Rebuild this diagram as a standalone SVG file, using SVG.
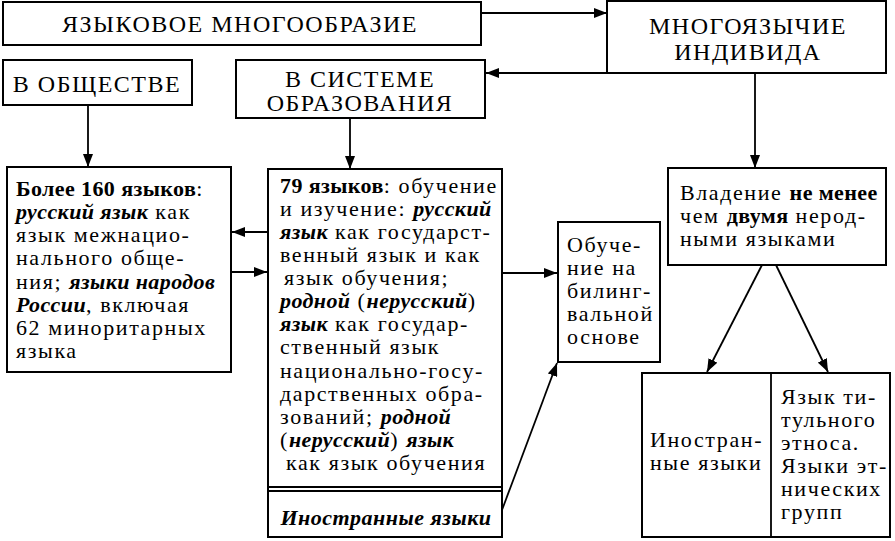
<svg xmlns="http://www.w3.org/2000/svg" width="895" height="541" viewBox="0 0 895 541">
<defs>
<marker id="ah" markerUnits="userSpaceOnUse" markerWidth="14" markerHeight="10" refX="13" refY="5" orient="auto">
<path d="M0,0 L13,5 L0,10 z" fill="#000"/>
</marker>
<style>
.box{fill:#fff;stroke:#000;stroke-width:2}
.ln{fill:none;stroke:#000;stroke-width:1.8}
text{font-family:"Liberation Serif","Times New Roman",serif;fill:#000}
.cap{font-size:24px;letter-spacing:1.5px}
.t{font-size:22px;letter-spacing:1.6px}
.b{font-weight:bold;letter-spacing:0.4px}
.bi{font-weight:bold;font-style:italic;letter-spacing:0.4px}
.f{letter-spacing:0.5px}
</style>
</defs>
<rect width="895" height="541" fill="#fff"/>
<g id="connectors">
<line class="ln" x1="481" y1="13" x2="607" y2="13" marker-end="url(#ah)"/>
<line class="ln" x1="607" y1="73" x2="486" y2="73" marker-end="url(#ah)"/>
<line class="ln" x1="88" y1="105" x2="88" y2="167" marker-end="url(#ah)"/>
<line class="ln" x1="350" y1="118" x2="350" y2="169" marker-end="url(#ah)"/>
<line class="ln" x1="755" y1="73" x2="755" y2="168" marker-end="url(#ah)"/>
<line class="ln" x1="268" y1="232" x2="232" y2="232" marker-end="url(#ah)"/>
<line class="ln" x1="231" y1="272" x2="267" y2="272" marker-end="url(#ah)"/>
<line class="ln" x1="502" y1="273" x2="557" y2="273" marker-end="url(#ah)"/>
<line class="ln" x1="502" y1="510" x2="557" y2="363" marker-end="url(#ah)"/>
<line class="ln" x1="762" y1="265" x2="707" y2="372" marker-end="url(#ah)"/>
<line class="ln" x1="776" y1="265" x2="828" y2="372" marker-end="url(#ah)"/>
</g>
<g id="node-diversity">
<rect class="box" x="3" y="2" width="478" height="43"/>
<text class="cap" x="240" y="32" text-anchor="middle">ЯЗЫКОВОЕ МНОГООБРАЗИЕ</text>
</g>
<g id="node-individual">
<rect class="box" x="607" y="1" width="279" height="72"/>
<text class="cap" x="748" y="34" text-anchor="middle">МНОГОЯЗЫЧИЕ</text>
<text class="cap" x="748" y="60" text-anchor="middle">ИНДИВИДА</text>
</g>
<g id="node-society">
<rect class="box" x="3" y="60" width="189" height="45"/>
<text class="cap" x="97" y="92" text-anchor="middle">В ОБЩЕСТВЕ</text>
</g>
<g id="node-education">
<rect class="box" x="236" y="60" width="249" height="58"/>
<text class="cap" x="360" y="87" text-anchor="middle">В СИСТЕМЕ</text>
<text class="cap" x="360" y="111" text-anchor="middle">ОБРАЗОВАНИЯ</text>
</g>
<g id="node-society-detail">
<rect class="box" x="7" y="167" width="224" height="205"/>
<text class="t" x="16" y="196"><tspan class="b">Более 160 языков</tspan>:</text>
<text class="t" x="16" y="219"><tspan class="bi">русский язык</tspan> как</text>
<text class="t" x="16" y="242">язык межнацио-</text>
<text class="t" x="16" y="265">нального обще-</text>
<text class="t" x="16" y="289">ния; <tspan class="bi">языки народов</tspan></text>
<text class="t" x="16" y="312"><tspan class="bi">России</tspan>, включая</text>
<text class="t" x="16" y="335">62 миноритарных</text>
<text class="t" x="16" y="358">языка</text>
</g>
<g id="node-education-detail">
<rect class="box" x="268" y="169" width="234" height="368"/>
<line class="ln" x1="268" y1="487" x2="502" y2="487"/>
<line class="ln" x1="268" y1="491" x2="502" y2="491"/>
<text class="t" x="280" y="193"><tspan class="b">79 языков</tspan>: обучение</text>
<text class="t" x="280" y="216">и изучение: <tspan class="bi">русский</tspan></text>
<text class="t" x="280" y="239"><tspan class="bi">язык</tspan> как государст-</text>
<text class="t" x="280" y="262">венный язык и как</text>
<text class="t" x="284" y="285">язык обучения;</text>
<text class="t" x="280" y="308"><tspan class="bi">родной</tspan> (<tspan class="bi">нерусский</tspan>)</text>
<text class="t" x="280" y="331"><tspan class="bi">язык</tspan>  как государ-</text>
<text class="t" x="280" y="354">ственный язык</text>
<text class="t" x="280" y="378">национально-госу-</text>
<text class="t" x="280" y="401">дарственных обра-</text>
<text class="t" x="280" y="424">зований; <tspan class="bi">родной</tspan></text>
<text class="t" x="280" y="447">(<tspan class="bi">нерусский</tspan>) <tspan class="bi">язык</tspan></text>
<text class="t" x="286" y="470">как язык обучения</text>
<text class="t bi f" x="386" y="525" text-anchor="middle">Иностранные языки</text>
</g>
<g id="node-bilingual">
<rect class="box" x="558" y="222" width="102" height="140"/>
<text class="t" x="567" y="252">Обуче-</text>
<text class="t" x="567" y="275">ние на</text>
<text class="t" x="567" y="298">билинг-</text>
<text class="t" x="567" y="321">вальной</text>
<text class="t" x="567" y="344">основе</text>
</g>
<g id="node-two-languages">
<rect class="box" x="668" y="168" width="218" height="97"/>
<text class="t" x="680" y="200">Владение <tspan class="b">не менее</tspan></text>
<text class="t" x="680" y="223">чем <tspan class="b">двумя</tspan>  нерод-</text>
<text class="t" x="680" y="246">ными языками</text>
</g>
<g id="node-language-kinds">
<rect class="box" x="642" y="373" width="248" height="164"/>
<line class="ln" x1="771" y1="373" x2="771" y2="537"/>
<text class="t" x="650" y="447">Иностран-</text>
<text class="t" x="650" y="470">ные языки</text>
<text class="t" x="781" y="404">Язык ти-</text>
<text class="t" x="781" y="427">тульного</text>
<text class="t" x="781" y="450">этноса.</text>
<text class="t" x="781" y="473">Языки эт-</text>
<text class="t" x="781" y="496">нических</text>
<text class="t" x="781" y="519">групп</text>
</g>
</svg>
